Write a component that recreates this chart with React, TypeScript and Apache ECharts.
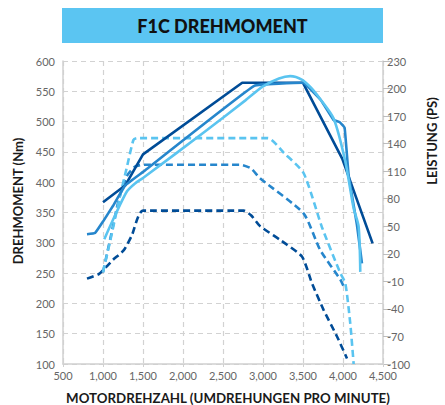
import React, { useEffect, useRef } from "react";
import * as echarts from "echarts";

// Axis ranges / ticks
const rpmTicks = [500, 1000, 1500, 2000, 2500, 3000, 3500, 4000, 4500];
const nmTicks = [100, 150, 200, 250, 300, 350, 400, 450, 500, 550, 600];
const psTicks = [-100, -70, -40, -10, 20, 50, 80, 110, 140, 170, 200, 230];

// Torque curves (Nm)
const darkTorqueRpm = [1000, 1280, 1500, 2740, 3500, 3990, 4370];
const darkTorqueNm = [367, 395, 446, 564, 564, 439, 299];

const midTorqueRpm = [800, 900, 1000, 1130, 1280, 1500, 2890, 3500, 3720, 3880, 3960, 4020, 4070, 4175, 4237];
const midTorqueNm = [314, 316, 335, 362, 395, 417, 559, 564, 536, 503, 499, 490, 412, 329, 266];

const lightTorqueRpm = [1016, 1150, 1300, 1400, 1500, 2300, 2780, 3000, 3200, 3340, 3490, 3600, 3716, 3883, 4029, 4133, 4195, 4216];
const lightTorqueNm = [306, 345, 385, 398, 407, 486, 535, 558, 571, 575, 569, 556, 537, 505, 434, 357, 327, 252];

// Power curves (PS)
const darkPowerRpm = [800, 950, 1000, 1120, 1260, 1360, 1500, 2760, 2850, 2966, 3216, 3487, 3612, 3757, 3925, 4050];
const darkPowerPs = [-7, -2, 2, 13, 24, 40, 67, 67, 62, 50, 35, 17, -12, -41, -70, -94];

const midPowerRpm = [1000, 1100, 1200, 1300, 1400, 1500, 2720, 2850, 2966, 3507, 3716, 3966, 4010];
const midPowerPs = [0, 40, 80, 105, 115, 117, 117, 113, 102, 64, 24, -8, -16];

const lightPowerRpm = [1000, 1100, 1200, 1300, 1380, 1420, 3060, 3260, 3507, 3737, 3966, 4029, 4091, 4133];
const lightPowerPs = [0, 38, 78, 115, 144, 146, 146, 130, 108, 49, -1, -12, -56, -100];

const PS_OFFSET = 100; // right axis drawn from 0..330, labelled -100..230

const DARK = "#004C97";
const MID = "#2686CC";
const LIGHT = "#5AC4F0";

const FONT = "Lato, 'Open Sans', sans-serif";

function zip(xs: number[], ys: number[], off = 0) {
  return xs.map((x, i) => [x, ys[i] + off]);
}

export default function App() {
  const ref = useRef<HTMLDivElement>(null);
  useEffect(() => {
    if (!ref.current) return;
    const chart = echarts.init(ref.current, null, { renderer: "svg" });
    const gridDash = { type: [5, 4] as any, color: "#d2d2d2", width: 1.2 };
    const solid = (name: string, color: string, data: number[][], smooth: number | boolean) => ({
      name,
      type: "line",
      data,
      xAxisIndex: 0,
      yAxisIndex: 0,
      showSymbol: false,
      symbol: "none",
      smooth,
      lineStyle: { color, width: 2.6 },
      z: 3,
    });
    const dashed = (name: string, color: string, data: number[][], smooth: number | boolean) => ({
      name,
      type: "line",
      data,
      xAxisIndex: 0,
      yAxisIndex: 1,
      showSymbol: false,
      symbol: "none",
      smooth,
      lineStyle: { color, width: 2.6, type: [7, 4] as any },
      z: 2,
    });
    chart.setOption({
      animation: false,
      backgroundColor: "#ffffff",
      grid: { left: 63, right: 62, top: 61, bottom: 41, containLabel: false },
      graphic: [
        {
          type: "rect",
          shape: { x: 62, y: 8, width: 321, height: 35 },
          style: { fill: "#5BC5F2" },
        },
        {
          type: "text",
          x: 222.5,
          y: 25.5,
          style: {
            text: "F1C DREHMOMENT",
            fill: "#111111",
            font: `900 18px ${FONT}`,
            align: "center",
            verticalAlign: "middle",
          },
        },
        {
          type: "text",
          x: 18,
          y: 201,
          rotation: Math.PI / 2,
          style: {
            text: "DREHMOMENT (Nm)",
            fill: "#1a1a1a",
            font: `bold 13px ${FONT}`,
            align: "center",
            verticalAlign: "middle",
          },
        },
        {
          type: "text",
          x: 432,
          y: 141,
          rotation: Math.PI / 2,
          style: {
            text: "LEISTUNG (PS)",
            fill: "#1a1a1a",
            font: `bold 13px ${FONT}`,
            align: "center",
            verticalAlign: "middle",
          },
        },
        {
          type: "text",
          x: 228,
          y: 398,
          style: {
            text: "MOTORDREHZAHL (UMDREHUNGEN PRO MINUTE)",
            fill: "#1a1a1a",
            font: `bold 13.3px ${FONT}`,
            align: "center",
            verticalAlign: "middle",
          },
        },
      ],
      xAxis: {
        type: "value",
        min: rpmTicks[0],
        max: rpmTicks[rpmTicks.length - 1],
        interval: 500,
        axisLine: { show: true, lineStyle: { color: "#d0d0d0", width: 1.5 } },
        axisTick: { show: true, length: 3, lineStyle: { color: "#d0d0d0" } },
        axisLabel: { color: "#666", fontSize: 11, fontFamily: FONT, margin: 6 },
        splitLine: { show: true, lineStyle: gridDash },
      },
      yAxis: [
        {
          type: "value",
          min: nmTicks[0],
          max: nmTicks[nmTicks.length - 1],
          interval: 50,
          axisLine: { show: true, lineStyle: { color: "#d0d0d0", width: 1.5 } },
          axisTick: { show: false },
          axisLabel: { color: "#666", fontSize: 11, fontFamily: FONT, margin: 8 },
          splitLine: { show: true, lineStyle: gridDash },
        },
        {
          type: "value",
          position: "right",
          min: psTicks[0] + PS_OFFSET,
          max: psTicks[psTicks.length - 1] + PS_OFFSET,
          interval: 30,
          axisLine: { show: true, lineStyle: { color: "#d0d0d0", width: 1.5 } },
          axisTick: { show: true, length: 8, lineStyle: { color: "#bdbdbd" } },
          axisLabel: {
            color: "#666",
            fontSize: 11,
            fontFamily: FONT,
            margin: 4,
            formatter: (v: number) => String(Math.round(v - PS_OFFSET)),
          },
          splitLine: { show: false },
        },
      ],
      series: [
        dashed("Leistung 1", DARK, zip(darkPowerRpm, darkPowerPs, PS_OFFSET), 0.2),
        dashed("Leistung 2", MID, zip(midPowerRpm, midPowerPs, PS_OFFSET), 0.2),
        dashed("Leistung 3", LIGHT, zip(lightPowerRpm, lightPowerPs, PS_OFFSET), 0.2),
        solid("Drehmoment 1", DARK, zip(darkTorqueRpm, darkTorqueNm), false),
        solid("Drehmoment 2", MID, zip(midTorqueRpm, midTorqueNm), 0.08),
        solid("Drehmoment 3", LIGHT, zip(lightTorqueRpm, lightTorqueNm), 0.25),
      ],
    });
    return () => chart.dispose();
  }, []);
  return (
    <div
      ref={ref}
      style={{ position: "fixed", left: 0, top: 0, width: 445, height: 405, background: "#fff" }}
    />
  );
}
